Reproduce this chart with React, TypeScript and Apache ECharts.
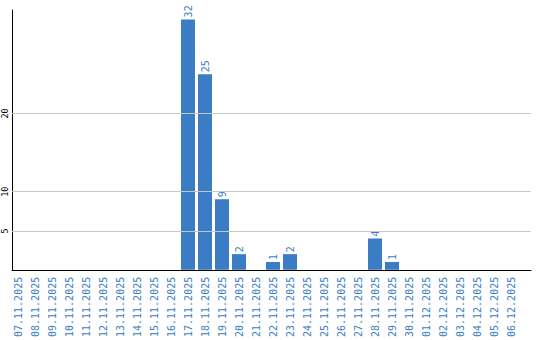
import React, { useEffect, useRef } from "react";
import * as echarts from "echarts";

const categories = [
  "07.11.2025", "08.11.2025", "09.11.2025", "10.11.2025", "11.11.2025",
  "12.11.2025", "13.11.2025", "14.11.2025", "15.11.2025", "16.11.2025",
  "17.11.2025", "18.11.2025", "19.11.2025", "20.11.2025", "21.11.2025",
  "22.11.2025", "23.11.2025", "24.11.2025", "25.11.2025", "26.11.2025",
  "27.11.2025", "28.11.2025", "29.11.2025", "30.11.2025", "01.12.2025",
  "02.12.2025", "03.12.2025", "04.12.2025", "05.12.2025", "06.12.2025",
];
const values = [
  0, 0, 0, 0, 0, 0, 0, 0, 0, 0,
  32, 25, 9, 2, 0, 1, 2, 0, 0, 0,
  0, 4, 1, 0, 0, 0, 0, 0, 0, 0,
];
const yTickLabels = [5, 10, 20];
const yMax = 33.2;

const BLUE = "#3a7dc4";
const FONT = "DejaVu Sans Mono";

export default function App() {
  const ref = useRef<HTMLDivElement>(null);
  useEffect(() => {
    if (!ref.current) return;
    const chart = echarts.init(ref.current, null, { renderer: "svg" });
    chart.setOption({
      animation: false,
      backgroundColor: "#ffffff",
      grid: [
        { left: 10, top: 10, right: 9, bottom: 70, containLabel: false },
        { left: 9.5, top: 10, width: 510, bottom: 70, containLabel: false },
      ],
      xAxis: [
        {
          type: "value",
          gridIndex: 0,
          min: 0,
          max: 1,
          axisLine: { show: true, onZero: false, lineStyle: { color: "#000", width: 1 } },
          axisTick: { show: false },
          axisLabel: { show: false },
          splitLine: { show: false },
        },
        {
          type: "category",
          gridIndex: 1,
          data: categories,
          axisLine: { show: false },
          axisTick: { show: false },
          splitLine: { show: false },
          axisLabel: {
            rotate: 90,
            interval: 0,
            color: BLUE,
            fontFamily: FONT,
            fontSize: 10,
            margin: 7,
          },
        },
      ],
      yAxis: [
        {
          type: "value",
          gridIndex: 0,
          min: 0,
          max: yMax,
          interval: 5,
          axisLine: { show: true, onZero: false, lineStyle: { color: "#000", width: 1 } },
          axisTick: { show: false },
          splitLine: { show: false },
          axisLabel: {
            rotate: 90,
            fontSize: 8.5,
            fontFamily: FONT,
            color: "#000",
            margin: 3,
            formatter: (v: number) => (yTickLabels.indexOf(v) >= 0 ? String(v) : ""),
          },
        },
        {
          type: "value",
          gridIndex: 1,
          min: 0,
          max: yMax,
          show: false,
          splitLine: { show: false },
        },
      ],
      series: [
        {
          type: "line",
          xAxisIndex: 0,
          yAxisIndex: 0,
          data: [],
          silent: true,
          markLine: {
            silent: true,
            symbol: "none",
            label: { show: false },
            lineStyle: { color: "#c8c8c8", type: "solid", width: 1 },
            data: yTickLabels.map((v) => ({ yAxis: v })),
          },
        },
        {
          type: "bar",
          xAxisIndex: 1,
          yAxisIndex: 1,
          data: values,
          barWidth: 14,
          itemStyle: { color: BLUE },
          label: {
            show: true,
            position: "top",
            rotate: 90,
            align: "left",
            verticalAlign: "middle",
            distance: 2,
            color: BLUE,
            fontFamily: FONT,
            fontSize: 10,
            formatter: (p: any) => (p.value ? String(p.value) : ""),
          },
        },
      ],
    });
    return () => chart.dispose();
  }, []);
  return (
    <div
      ref={ref}
      style={{ position: "fixed", left: 0, top: 0, width: 540, height: 340 }}
    />
  );
}
